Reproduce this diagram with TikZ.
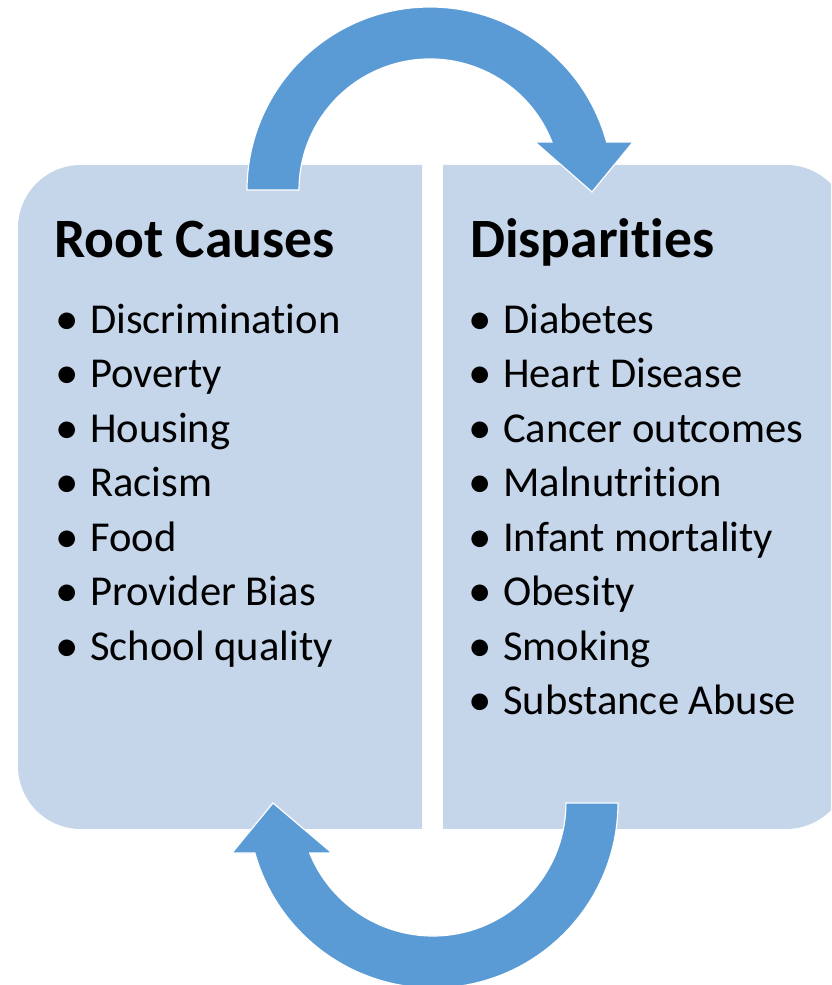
\documentclass[tikz,border=0pt]{standalone}
\usepackage{fontspec}
\setmainfont[Ligatures=NoCommon]{Carlito}
\usetikzlibrary{matrix}
\definecolor{boxblue}{RGB}{197,213,234}
\definecolor{arrowblue}{RGB}{91,155,213}
\newcommand{\listdot}{{\fontsize{47}{47}\selectfont\raisebox{-1pt}{\textbullet}}}

\begin{document}
\begin{tikzpicture}[x=1pt,y=1pt,
    heading/.style={anchor=base west,inner sep=0pt,font=\fontsize{55.5}{66}\selectfont\bfseries},
    bulletlist/.style={matrix of nodes,inner sep=0pt,column sep=0pt,row sep=14.5pt,anchor=north west,
      nodes={anchor=base west,inner sep=0pt,text height=30pt,text depth=10pt,font=\fontsize{42.6}{50}\selectfont},
      column 1/.style={nodes={text width=35pt}}},
    cyclearrow/.style={fill=arrowblue,draw=white,line width=1.2pt}]
    \clip (0,0) rectangle (831,985);

    % the two panels, rounded on the outer side only
    \fill[boxblue]
      (422,156) -- (422,820) -- (81,820) arc[start angle=90,end angle=180,radius=63]
      -- (18,219) arc[start angle=180,end angle=270,radius=63] -- cycle;
    \fill[boxblue]
      (443,156) -- (443,820) -- (786,820) arc[start angle=90,end angle=0,radius=63]
      -- (849,219) arc[start angle=0,end angle=-90,radius=63] -- cycle;

    % top arrow, left to right
    \path[cyclearrow]
      (247,795) arc[start angle=180,end angle=15.2,radius=183]
      -- (633,843) -- (592,793) -- (535,843) -- (551.9,843)
      arc[start angle=21.5,end angle=180,radius=131] -- cycle;

    % bottom arrow, right to left
    \path[cyclearrow]
      (618,182) arc[start angle=0,end angle=-164.3,radius=185]
      -- (232,132) -- (273,182) -- (332,132) -- (309.7,132)
      arc[start angle=-157.9,end angle=0,radius=133] -- cycle;

    \node[heading] (roottitle) at (54,727) {Root Causes};
    \node[heading] (disptitle) at (470,727) {Disparities};

    \matrix (causes) [bulletlist] at (55,682) {
      \listdot & Discrimination \\
      \listdot & Poverty \\
      \listdot & Housing \\
      \listdot & Racism \\
      \listdot & Food \\
      \listdot & Provider Bias \\
      \listdot & School quality \\
    };

    \matrix (disparities) [bulletlist] at (468,682) {
      \listdot & Diabetes \\
      \listdot & Heart Disease \\
      \listdot & Cancer outcomes \\
      \listdot & Malnutrition \\
      \listdot & Infant mortality \\
      \listdot & Obesity \\
      \listdot & Smoking \\
      \listdot & Substance Abuse \\
    };
  \end{tikzpicture}
\end{document}
